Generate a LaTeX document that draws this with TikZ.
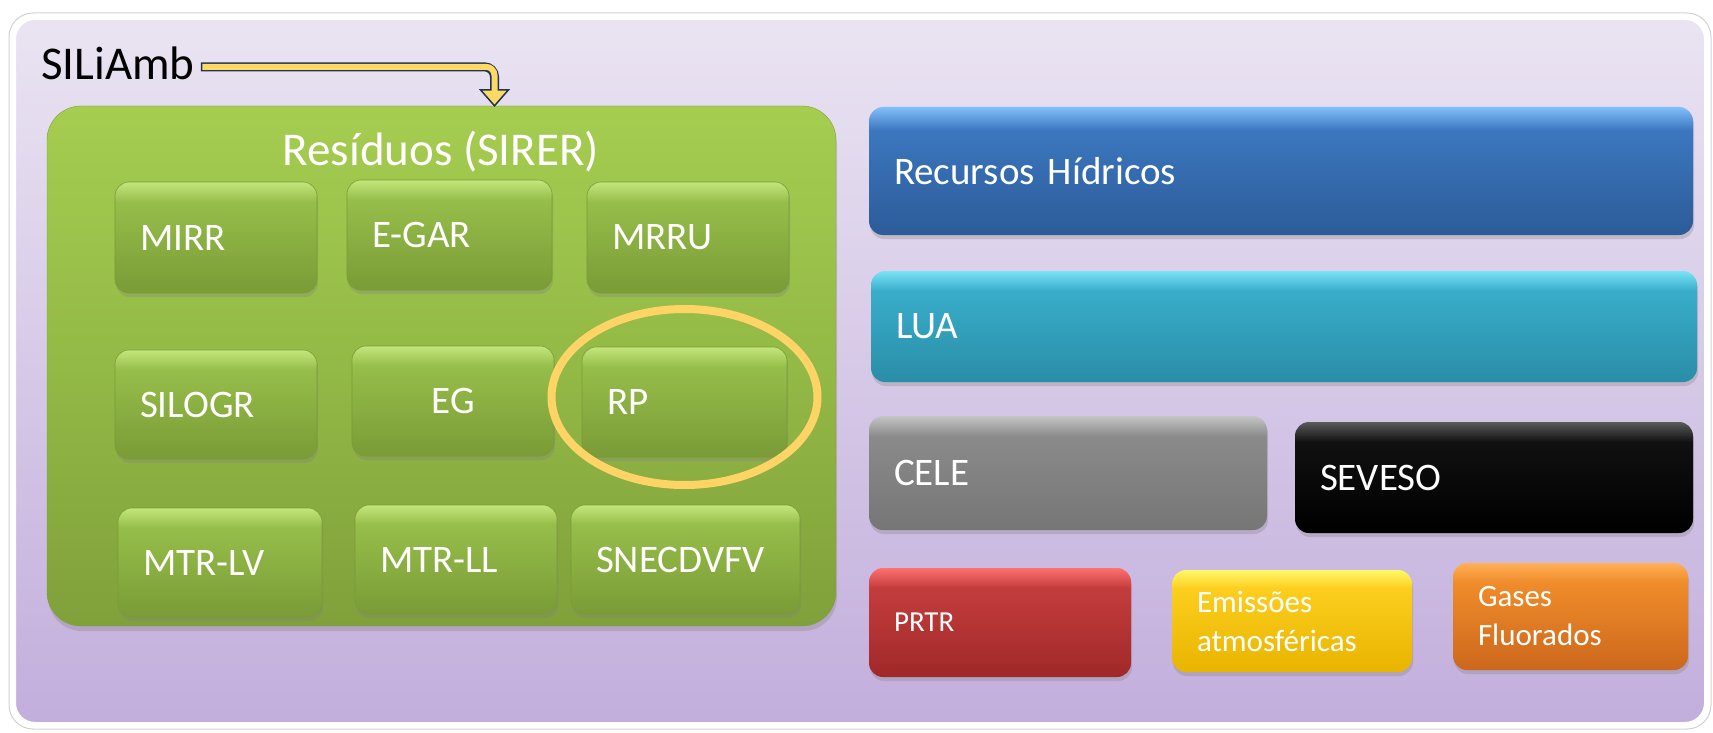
\documentclass[tikz,border=0pt]{standalone}
\usepackage{fontspec}
\setmainfont{Carlito}
\usetikzlibrary{shapes.geometric,shadows}

\definecolor{panelTop}{HTML}{EAE4F2}
\definecolor{panelBot}{HTML}{C2AEDC}
\definecolor{pnlTop}{HTML}{A5CD50}
\definecolor{pnlMid}{HTML}{93B946}
\definecolor{pnlBot}{HTML}{80A03B}
\definecolor{grnTop}{HTML}{C4E67C}
\definecolor{grnMid}{HTML}{96BE4A}
\definecolor{grnBot}{HTML}{7A9B36}
\definecolor{bluTop}{HTML}{80C0FA}
\definecolor{bluMid}{HTML}{3C77BF}
\definecolor{bluBot}{HTML}{2C5B98}
\definecolor{cyaTop}{HTML}{7AE2F6}
\definecolor{cyaMid}{HTML}{38ADCA}
\definecolor{cyaBot}{HTML}{2A8DA7}
\definecolor{gryTop}{HTML}{C4C4C4}
\definecolor{gryMid}{HTML}{8A8A8A}
\definecolor{gryBot}{HTML}{767676}
\definecolor{blkTop}{HTML}{5A5A5A}
\definecolor{blkMid}{HTML}{101010}
\definecolor{blkBot}{HTML}{000000}
\definecolor{redTop}{HTML}{FF7070}
\definecolor{redMid}{HTML}{C43D3D}
\definecolor{redBot}{HTML}{A02828}
\definecolor{yelTop}{HTML}{FFF86A}
\definecolor{yelMid}{HTML}{FCCE1E}
\definecolor{yelBot}{HTML}{E8B400}
\definecolor{orgTop}{HTML}{FFB058}
\definecolor{orgMid}{HTML}{F08C2A}
\definecolor{orgBot}{HTML}{CC681C}
\definecolor{ringCol}{HTML}{FFD466}
\definecolor{arrowFill}{HTML}{FFD966}
\definecolor{arrowEdge}{HTML}{1F3550}

% glossy vertical shadings, one per colour
\newcommand\glossdecl[1]{%
  \pgfdeclareverticalshading{gloss#1}{100bp}{color(0bp)=(#1Bot); color(25bp)=(#1Bot);
    color(66bp)=(#1Mid); color(75bp)=(#1Top); color(100bp)=(#1Top)}}
\glossdecl{grn}\glossdecl{blu}\glossdecl{cya}\glossdecl{gry}
\glossdecl{blk}\glossdecl{red}\glossdecl{yel}\glossdecl{org}

\tikzset{
  glossy/.style={shade, shading=gloss#1},
  btn/.style={rectangle, rounded corners=14pt, text=white, align=left,
    inner xsep=25pt, inner ysep=0pt, font=\fontsize{39}{46}\selectfont,
    drop shadow={shadow xshift=1pt, shadow yshift=-4pt, opacity=.3}},
  gbtn/.style={btn, glossy=grn, draw=grnBot, line width=0.6pt},
  smalltxt/.style={font=\fontsize{31}{39}\selectfont},
}

\begin{document}
\begin{tikzpicture}[x=1pt, y=-1pt]
    \useasboundingbox (0,0) rectangle (1713,733);

    % outer frame
    \draw[draw=black!18, line width=1pt, rounded corners=24pt] (9,13) rectangle (1711,729);
    \draw[draw=white, line width=6pt, top color=panelTop, bottom color=panelBot,
      rounded corners=22pt] (13,17) rectangle (1707,725);

    % SILiAmb and the waste panel
    \node[font=\fontsize{47}{56}\selectfont, anchor=base west, inner sep=0pt] (sili) at (41,80) {SILiAmb};
    \node[rectangle, rounded corners=34pt, top color=pnlTop, bottom color=pnlBot, middle color=pnlMid,
      draw=pnlBot, drop shadow={shadow xshift=1pt, shadow yshift=-5pt, opacity=.3},
      minimum width=789pt, minimum height=520pt] (residuos) at (441.5,366) {};
    \node[font=\fontsize{47}{56}\selectfont, text=white, anchor=base] (sirer) at (441,165) {Resíduos (SIRER)};

    % green buttons
    \node[gbtn, text width=152pt, minimum height=111pt] (mirr) at (216,237.5) {MIRR};
    \node[gbtn, text width=155pt, minimum height=110pt] (egar) at (449.5,235) {E-GAR};
    \node[gbtn, text width=152pt, minimum height=111pt] (mrru) at (688,237.5) {MRRU};
    \node[gbtn, text width=152pt, minimum height=109pt] (silogr) at (216,404.5) {SILOGR};
    \node[gbtn, text width=152pt, minimum height=110pt, align=center] (eg) at (453,401) {EG};
    \node[gbtn, text width=155pt, minimum height=110pt] (rp) at (684.5,402) {RP};
    \node[gbtn, text width=154pt, minimum height=109pt] (mtrlv) at (220,562.5) {MTR-LV};
    \node[gbtn, text width=152pt, minimum height=109pt] (mtrll) at (456,559.5) {MTR-LL};
    \node[gbtn, text width=179pt, minimum height=109pt] (snec) at (685.5,559.5) {SNECDVFV};

    % ring round RP
    \node[ellipse, draw=ringCol, line width=8pt, inner sep=0pt, minimum width=266pt,
      minimum height=176pt] (ring) at ([yshift=5pt]rp.center) {};

    % other systems
    \node[btn, glossy=blu, text width=774pt, minimum height=128pt] (recursos) at (1281,171) {Recursos Hídricos};
    \node[btn, glossy=cya, text width=776pt, minimum height=111pt] (lua) at (1284,326.5) {LUA};
    \node[btn, glossy=gry, text width=348pt, minimum height=114pt] (cele) at (1068,473) {CELE};
    \node[btn, glossy=blk, text width=348pt, minimum height=111pt] (seveso) at (1494,477.5) {SEVESO};
    \node[btn, glossy=red, text width=212pt, minimum height=109pt, font=\fontsize{29}{35}\selectfont] (prtr) at (1000,622.5) {PRTR};
    \node[btn, glossy=yel, text width=190pt, minimum height=102pt, smalltxt] (emis) at (1292,621) {Emissões\\atmosféricas};
    \node[btn, glossy=org, text width=185pt, minimum height=107pt, smalltxt] (gases) at (1570.5,616.5) {Gases\\Fluorados};

    % bent arrow from SILiAmb to the panel
    \coordinate (tip) at ([xshift=53pt]residuos.north);
    \draw[line width=9pt, draw=arrowEdge, rounded corners=10pt]
      ([xshift=6pt,yshift=-3pt]sili.east) -| ([yshift=16pt]tip);
    \filldraw[fill=arrowFill, draw=arrowEdge, line width=1.5pt, line join=miter]
      ([xshift=-14pt,yshift=16pt]tip) -- ([xshift=14pt,yshift=16pt]tip) -- (tip) -- cycle;
    \draw[line width=6pt, draw=arrowFill, rounded corners=8.5pt]
      ([xshift=7.5pt,yshift=-3pt]sili.east) -| ([yshift=14pt]tip);
\end{tikzpicture}
\end{document}
